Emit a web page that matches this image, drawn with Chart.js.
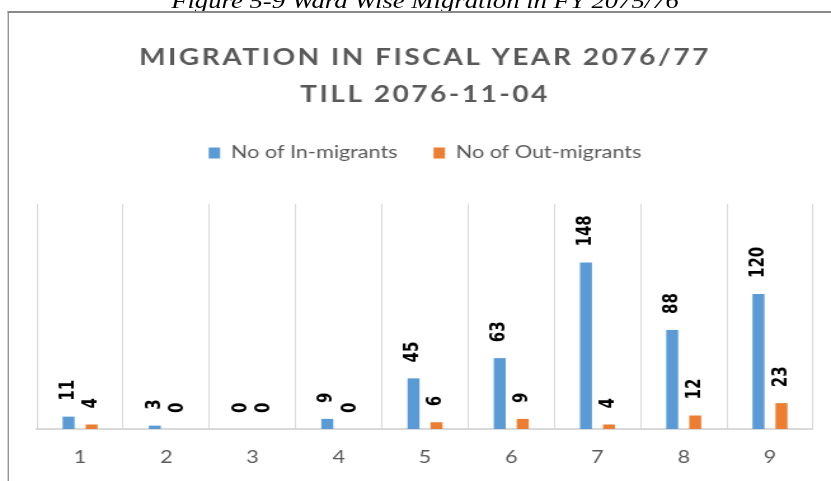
<!DOCTYPE html>
<html>
<head>
<meta charset="utf-8">
<script src="https://cdn.jsdelivr.net/npm/chart.js@4.4.1/dist/chart.umd.min.js"></script>
<style>
  html, body { margin: 0; padding: 0; background: #fff; width: 831px; height: 481px; overflow: hidden; }
  /* The figure is laid out 654px wide and widened to the 831px page */
  #page { position: absolute; left: 0; top: 0; width: 654px; height: 481px;
          transform: scaleX(1.2706); transform-origin: 0 0; }
  #caption { position: absolute; left: 0; width: 669px; top: -11px; line-height: 24px; text-align: center;
             font: italic 21px "Liberation Serif", "Times New Roman", serif; color: #000; white-space: nowrap; }
  #frame { position: absolute; left: 5.5px; top: 11px; width: 1000px; height: 600px;
           border-top: 2px solid #8a8a8a; border-left: 1.6px solid #8a8a8a; }
  #chart { position: absolute; left: 0; top: 0; }
</style>
</head>
<body>
<div id="page">
  <div id="caption">Figure 5-9 Ward Wise Migration in FY 2075/76</div>
  <div id="frame"></div>
  <canvas id="chart" width="654" height="481" style="width:654px;height:481px"></canvas>
</div>
<script>
// Ward numbers and migration counts
const wards = ['1', '2', '3', '4', '5', '6', '7', '8', '9'];
const inMigrants = [11, 3, 0, 9, 45, 63, 148, 88, 120];
const outMigrants = [4, 0, 0, 0, 6, 9, 4, 12, 23];
const titleLines = ['MIGRATION IN FISCAL YEAR 2076/77', 'TILL 2076-11-04'];
const seriesNames = ['No of In-migrants', 'No of Out-migrants'];

Chart.defaults.font.family = 'Lato, "Open Sans", sans-serif';

// Adds letter spacing to the chart title only
const spacedTitle = {
  id: 'spacedTitle',
  afterLayout(chart) {
    const block = chart.titleBlock;
    if (block && !block._spaced) {
      const draw = block.draw.bind(block);
      block.draw = function () {
        const ctx = chart.ctx;
        ctx.save();
        ctx.letterSpacing = '2px';
        draw();
        ctx.restore();
      };
      block._spaced = true;
    }
  }
};

// Vertical value labels above each bar
const barValues = {
  id: 'barValues',
  afterDatasetsDraw(chart) {
    const ctx = chart.ctx;
    chart.data.datasets.forEach((ds, i) => {
      const meta = chart.getDatasetMeta(i);
      meta.data.forEach((bar, j) => {
        ctx.save();
        ctx.translate(bar.x, bar.y - 16);
        ctx.rotate(-Math.PI / 2);
        ctx.font = 'bold 15px "DejaVu Sans", sans-serif';
        ctx.fillStyle = '#000';
        ctx.textAlign = 'left';
        ctx.textBaseline = 'middle';
        ctx.fillText(String(ds.data[j]), 0, 0);
        ctx.restore();
      });
    });
  }
};

new Chart(document.getElementById('chart'), {
  type: 'bar',
  data: {
    labels: wards,
    datasets: [
      { label: seriesNames[0], data: inMigrants, backgroundColor: '#5B9BD5',
        categoryPercentage: 0.534, barPercentage: 0.52 },
      { label: seriesNames[1], data: outMigrants, backgroundColor: '#ED7D31',
        categoryPercentage: 0.534, barPercentage: 0.52 }
    ]
  },
  options: {
    responsive: false,
    animation: false,
    devicePixelRatio: 1,
    layout: { padding: { left: 29.1, right: 14.1, top: 0, bottom: -4.4 } },
    plugins: {
      title: {
        display: true,
        text: titleLines,
        color: '#595959',
        font: { size: 22, weight: 'bold', lineHeight: '37px' },
        padding: { top: 39.5, bottom: 2.7 }
      },
      legend: {
        position: 'top',
        labels: {
          color: '#595959',
          font: { size: 17 },
          boxWidth: 9,
          boxHeight: 11,
          padding: 28.3
        }
      },
      subtitle: {
        display: true,
        text: '',
        weight: 500,
        font: { size: 10, lineHeight: '10px' },
        padding: { top: 0, bottom: 22.5 }
      },
      tooltip: { enabled: false }
    },
    scales: {
      x: {
        grid: { color: '#d9d9d9', lineWidth: 1, drawTicks: false, offset: true },
        border: { display: true, color: '#d9d9d9', width: 2 },
        ticks: { color: '#595959', font: { size: 17 }, padding: 18 }
      },
      y: { display: false, min: 0, max: 200 }
    }
  },
  plugins: [spacedTitle, barValues]
});
</script>
</body>
</html>
